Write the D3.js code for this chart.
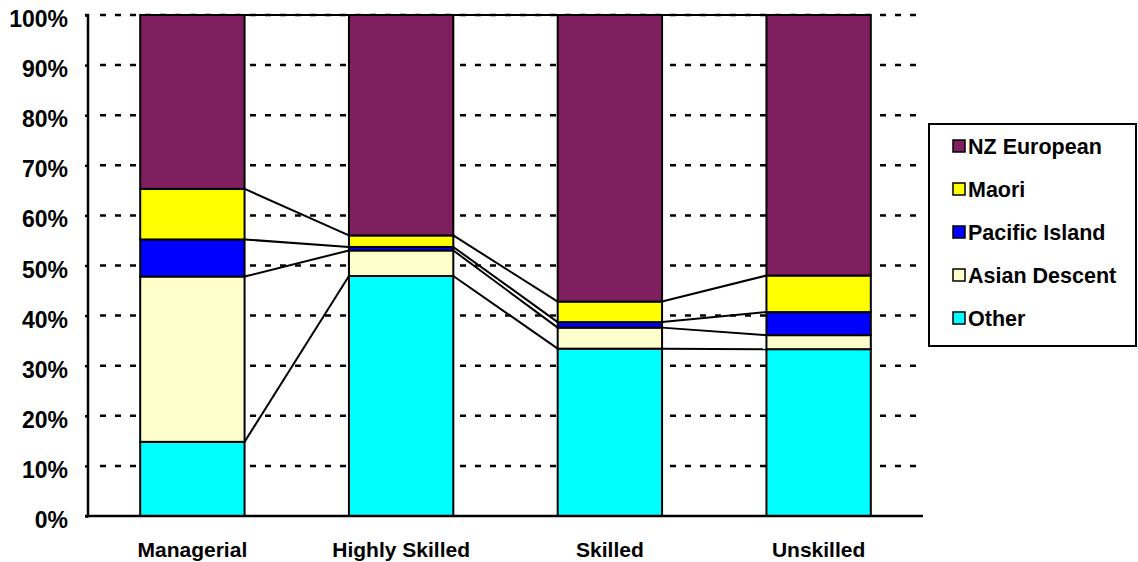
<!DOCTYPE html>
<html>
<head>
<meta charset="utf-8">
<script src="https://cdn.jsdelivr.net/npm/d3@7"></script>
<style>
  html, body { margin: 0; padding: 0; background: #fff; }
  svg text { font-family: "Liberation Sans", Arial, sans-serif; font-weight: bold; fill: #000; }
</style>
</head>
<body>
<svg id="chart" width="1138" height="562"></svg>
<script>
// Occupation groups and ethnic composition (percent of each group)
const categories = ["Managerial", "Highly Skilled", "Skilled", "Unskilled"];
const seriesNames = ["Other", "Asian Descent", "Pacific Island", "Maori", "NZ European"];
const otherValues = [14.8, 47.9, 33.4, 33.3];
const asianValues = [33.0, 5.1, 4.2, 2.8];
const pacificValues = [7.4, 0.7, 1.1, 4.6];
const maoriValues = [10.1, 2.3, 4.1, 7.3];
const nzEuropeanValues = [34.7, 44.0, 57.2, 52.0];
const yTicks = [0, 10, 20, 30, 40, 50, 60, 70, 80, 90, 100];
const legendOrder = ["NZ European", "Maori", "Pacific Island", "Asian Descent", "Other"];

const colors = {
  "NZ European": "#7f1f5f",
  "Maori": "#ffff00",
  "Pacific Island": "#0000ff",
  "Asian Descent": "#ffffcc",
  "Other": "#00ffff"
};

const seriesValues = {
  "Other": otherValues,
  "Asian Descent": asianValues,
  "Pacific Island": pacificValues,
  "Maori": maoriValues,
  "NZ European": nzEuropeanValues
};

const rows = categories.map((c, i) => {
  const r = { category: c };
  seriesNames.forEach(s => r[s] = seriesValues[s][i]);
  return r;
});

const stacked = d3.stack().keys(seriesNames).offset(d3.stackOffsetExpand)(rows);

const svg = d3.select("#chart");
const plot = { left: 88, right: 923, top: 15, bottom: 516 };

const x = d3.scaleBand().domain(categories).range([plot.left, plot.right]).paddingInner(0.5).paddingOuter(0.25);
const y = d3.scaleLinear().domain([0, 1]).range([plot.bottom, plot.top]);

// Dashed horizontal gridlines
svg.append("g")
  .selectAll("line")
  .data(yTicks.filter(t => t > 0))
  .join("line")
  .attr("x1", plot.left + 12)
  .attr("x2", plot.right)
  .attr("y1", d => y(d / 100))
  .attr("y2", d => y(d / 100))
  .attr("stroke", "#000")
  .attr("stroke-width", 2.5)
  .attr("stroke-dasharray", "6,9");

// Stacked bars
const layers = svg.append("g").selectAll("g")
  .data(stacked)
  .join("g")
  .attr("fill", d => colors[d.key]);

layers.selectAll("rect")
  .data(d => d)
  .join("rect")
  .attr("x", d => x(d.data.category))
  .attr("width", x.bandwidth())
  .attr("y", d => y(d[1]))
  .attr("height", d => y(d[0]) - y(d[1]))
  .attr("stroke", "#000")
  .attr("stroke-width", 2);

// Series lines joining the top of each segment between neighbouring bars
const seriesLines = [];
stacked.forEach(layer => {
  for (let i = 0; i < layer.length - 1; i++) {
    seriesLines.push({
      x1: x(categories[i]) + x.bandwidth(),
      y1: y(layer[i][1]),
      x2: x(categories[i + 1]),
      y2: y(layer[i + 1][1])
    });
  }
});
svg.append("g")
  .selectAll("line")
  .data(seriesLines)
  .join("line")
  .attr("x1", d => d.x1).attr("y1", d => d.y1)
  .attr("x2", d => d.x2).attr("y2", d => d.y2)
  .attr("stroke", "#000")
  .attr("stroke-width", 2);

// Y axis
const yAxis = svg.append("g")
  .attr("transform", `translate(${plot.left},0)`)
  .call(d3.axisLeft(y).tickValues(yTicks.map(t => t / 100)).tickFormat(d => Math.round(d * 100) + "%").tickSize(3).tickPadding(17));
yAxis.select(".domain").attr("stroke-width", 2.5).attr("d", `M-3,${plot.top}H0V${plot.bottom}H-3`);
yAxis.selectAll(".tick line").attr("stroke-width", 2.5);
yAxis.selectAll(".tick text")
  .attr("font-size", 23)
  .attr("dy", "0.5em")
  .style("font-family", "'Liberation Sans', Arial, sans-serif")
  .style("font-weight", "bold");

// X axis
const xAxis = svg.append("g")
  .attr("transform", `translate(0,${plot.bottom})`)
  .call(d3.axisBottom(x).tickSize(0).tickPadding(26));
xAxis.select(".domain").attr("stroke-width", 2.5).attr("d", `M${plot.left},0H${plot.right}`);
xAxis.selectAll(".tick text")
  .attr("font-size", 21)
  .style("font-family", "'Liberation Sans', Arial, sans-serif")
  .style("font-weight", "bold");

// Legend
const legend = svg.append("g");
legend.append("rect")
  .attr("x", 929).attr("y", 124)
  .attr("width", 207).attr("height", 222)
  .attr("fill", "#fff")
  .attr("stroke", "#000")
  .attr("stroke-width", 2);

const items = legend.selectAll("g.item")
  .data(legendOrder)
  .join("g")
  .attr("class", "item")
  .attr("transform", (d, i) => `translate(953,${146 + i * 43})`);

items.append("rect")
  .attr("x", 0).attr("y", -6)
  .attr("width", 12).attr("height", 12)
  .attr("fill", d => colors[d])
  .attr("stroke", "#000")
  .attr("stroke-width", 1.5);

items.append("text")
  .attr("x", 15)
  .attr("y", 0)
  .attr("dy", "0.35em")
  .attr("font-size", 21.5)
  .text(d => d);
</script>
</body>
</html>
